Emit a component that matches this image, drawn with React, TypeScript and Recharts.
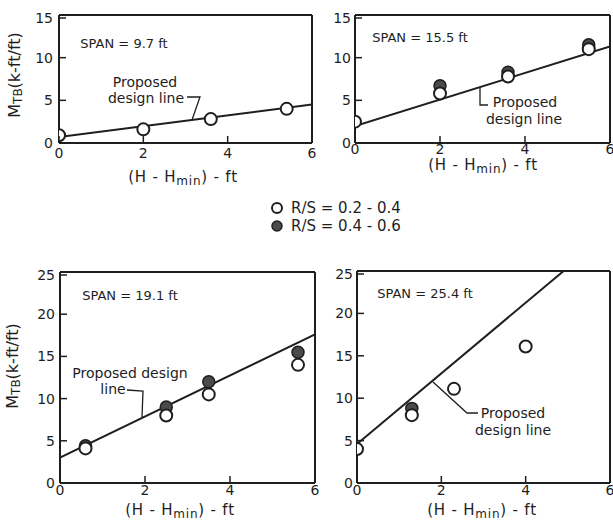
import { ScatterChart, Scatter, XAxis, YAxis } from 'recharts';

const FONT = '"DejaVu Sans", Verdana, sans-serif';
const INK = '#1e1e1e';

const xTicks = [0, 2, 4, 6];
const yTicksSmall = [0, 5, 10, 15];
const yTicksLarge = [0, 5, 10, 15, 20, 25];

// SPAN = 9.7 ft
const span97Open = [
  { x: 0, y: 0.9 },
  { x: 2, y: 1.6 },
  { x: 3.6, y: 2.8 },
  { x: 5.4, y: 4.0 },
];
const span97Filled: { x: number; y: number }[] = [];
const span97Line = [
  { x: 0, y: 0.7 },
  { x: 6, y: 4.5 },
];

// SPAN = 15.5 ft
const span155Open = [
  { x: 0, y: 2.5 },
  { x: 2, y: 5.8 },
  { x: 3.6, y: 7.8 },
  { x: 5.5, y: 11.0 },
];
const span155Filled = [
  { x: 2, y: 6.7 },
  { x: 3.6, y: 8.3 },
  { x: 5.5, y: 11.5 },
];
const span155Line = [
  { x: 0, y: 2.0 },
  { x: 6, y: 11.3 },
];

// SPAN = 19.1 ft
const span191Open = [
  { x: 0.6, y: 4.1 },
  { x: 2.5, y: 8.0 },
  { x: 3.5, y: 10.5 },
  { x: 5.6, y: 14.0 },
];
const span191Filled = [
  { x: 0.6, y: 4.4 },
  { x: 2.5, y: 9.0 },
  { x: 3.5, y: 12.0 },
  { x: 5.6, y: 15.5 },
];
const span191Line = [
  { x: 0, y: 3.0 },
  { x: 6, y: 17.6 },
];

// SPAN = 25.4 ft
const span254Open = [
  { x: 0, y: 4.0 },
  { x: 1.3, y: 8.0 },
  { x: 2.3, y: 11.1 },
  { x: 4.0, y: 16.1 },
];
const span254Filled = [{ x: 1.3, y: 8.8 }];
const span254Line = [
  { x: 0, y: 4.6 },
  { x: 4.9, y: 25 },
];

type Pt = { x: number; y: number };
type Box = { x: number; y: number; w: number; h: number };

const ML = 50;
const MT = 6;
const MR = 6;
const XH = 30;

function OpenDot(p: any) {
  return <circle cx={p.cx} cy={p.cy} r={6} fill="#fff" stroke={INK} strokeWidth={2} />;
}
function FilledDot(p: any) {
  return <circle cx={p.cx} cy={p.cy} r={6} fill="#4a4a4a" stroke={INK} strokeWidth={1.5} />;
}
function NoDot() {
  return <g />;
}

function Panel({
  box,
  yTicks,
  open,
  filled,
  line,
  xMargin,
  yMargin,
}: {
  box: Box;
  yTicks: number[];
  open: Pt[];
  filled: Pt[];
  line: Pt[];
  xMargin: number;
  yMargin: number;
}) {
  const yMax = yTicks[yTicks.length - 1];
  const BottomTick = (p: any) => {
    const ay = p.y - xMargin;
    return (
      <g>
        <line x1={p.x} x2={p.x} y1={ay} y2={ay - 7} stroke={INK} strokeWidth={1.5} />
        <text x={p.x} y={p.y} dy="0.71em" textAnchor="middle" fontSize={14} fill={INK} fontFamily={FONT}>
          {p.payload.value}
        </text>
      </g>
    );
  };
  const LeftTick = (p: any) => {
    const ax = p.x + yMargin;
    return (
      <g>
        <line x1={ax} x2={ax + 7} y1={p.y} y2={p.y} stroke={INK} strokeWidth={1.5} />
        <text x={p.x} y={p.y} dy="0.355em" textAnchor="end" fontSize={14} fill={INK} fontFamily={FONT}>
          {p.payload.value}
        </text>
      </g>
    );
  };
  const axisLine = { stroke: INK, strokeWidth: 2 };
  return (
    <div style={{ position: 'absolute', left: box.x - ML, top: box.y - MT }}>
      <ScatterChart
        width={box.w + ML + MR}
        height={box.h + MT + XH}
        margin={{ top: MT, right: MR, bottom: 0, left: 0 }}
      >
        <XAxis
          xAxisId="b"
          dataKey="x"
          type="number"
          domain={[0, 6]}
          ticks={xTicks}
          height={XH}
          tickSize={0}
          tickMargin={xMargin}
          tickLine={false}
          axisLine={axisLine}
          tick={BottomTick}
          allowDataOverflow
        />
        <XAxis
          xAxisId="t"
          orientation="top"
          mirror
          dataKey="x"
          type="number"
          domain={[0, 6]}
          ticks={xTicks}
          tick={false}
          tickSize={7}
          tickLine={{ stroke: INK, strokeWidth: 1.5 }}
          axisLine={axisLine}
          allowDataOverflow
        />
        <YAxis
          yAxisId="l"
          dataKey="y"
          type="number"
          domain={[0, yMax]}
          ticks={yTicks}
          width={ML}
          tickSize={0}
          tickMargin={yMargin}
          tickLine={false}
          axisLine={axisLine}
          tick={LeftTick}
          allowDataOverflow
        />
        <YAxis
          yAxisId="r"
          orientation="right"
          mirror
          dataKey="y"
          type="number"
          domain={[0, yMax]}
          ticks={yTicks}
          tick={false}
          tickSize={7}
          tickLine={{ stroke: INK, strokeWidth: 1.5 }}
          axisLine={axisLine}
          allowDataOverflow
        />
        <Scatter
          data={line}
          xAxisId="t"
          yAxisId="r"
          shape={NoDot}
          isAnimationActive={false}
        />
        <Scatter
          data={line}
          xAxisId="b"
          yAxisId="l"
          line={{ stroke: INK, strokeWidth: 2 }}
          lineType="joint"
          shape={NoDot}
          isAnimationActive={false}
        />
        <Scatter data={filled} xAxisId="b" yAxisId="l" shape={FilledDot} isAnimationActive={false} />
        <Scatter data={open} xAxisId="b" yAxisId="l" shape={OpenDot} isAnimationActive={false} />
      </ScatterChart>
    </div>
  );
}

function YTitle({ x, y }: { x: number; y: number }) {
  const size = 16;
  return (
    <text
      x={x}
      y={y}
      transform={`rotate(-90 ${x} ${y})`}
      textAnchor="middle"
      dominantBaseline="central"
      fontSize={size}
      fontFamily={FONT}
      fill={INK}
    >
      M
      <tspan fontSize={12} dy={4}>
        TB
      </tspan>
      <tspan dy={-4}>(k-ft/ft)</tspan>
    </text>
  );
}

function XTitle({ x, y }: { x: number; y: number }) {
  return (
    <text
      x={x}
      y={y}
      textAnchor="middle"
      dominantBaseline="central"
      fontSize={15}
      letterSpacing={0.8}
      fontFamily={FONT}
      fill={INK}
    >
      (H - H
      <tspan fontSize={12} dy={4}>
        min
      </tspan>
      <tspan dy={-4}>) - ft</tspan>
    </text>
  );
}

function Note({ x, y, size = 14, children }: { x: number; y: number; size?: number; children: string }) {
  return (
    <text x={x} y={y} textAnchor="middle" dominantBaseline="central" fontSize={size} fontFamily={FONT} fill={INK}>
      {children}
    </text>
  );
}

export default function App() {
  const lead = { stroke: INK, strokeWidth: 1.3, fill: 'none' };
  return (
    <div style={{ position: 'absolute', left: 0, top: 0, width: 613, height: 520, background: '#fff' }}>
      <Panel
        box={{ x: 59, y: 15, w: 253, h: 128 }}
        yTicks={yTicksSmall}
        open={span97Open}
        filled={span97Filled}
        line={span97Line}
        xMargin={5}
        yMargin={6}
      />
      <Panel
        box={{ x: 355, y: 15, w: 255, h: 128 }}
        yTicks={yTicksSmall}
        open={span155Open}
        filled={span155Filled}
        line={span155Line}
        xMargin={1}
        yMargin={4}
      />
      <Panel
        box={{ x: 60, y: 272, w: 255, h: 211 }}
        yTicks={yTicksLarge}
        open={span191Open}
        filled={span191Filled}
        line={span191Line}
        xMargin={2}
        yMargin={5}
      />
      <Panel
        box={{ x: 357, y: 271, w: 253, h: 212 }}
        yTicks={yTicksLarge}
        open={span254Open}
        filled={span254Filled}
        line={span254Line}
        xMargin={2}
        yMargin={4}
      />
      <svg
        width={613}
        height={520}
        style={{ position: 'absolute', left: 0, top: 0, pointerEvents: 'none' }}
      >
        <YTitle x={14} y={75} />
        <YTitle x={12} y={366} />
        <XTitle x={183} y={177} />
        <XTitle x={483} y={165} />
        <XTitle x={180} y={510} />
        <XTitle x={482} y={510} />

        <Note x={124} y={43} size={13}>SPAN = 9.7 ft</Note>
        <Note x={420} y={37} size={13}>SPAN = 15.5 ft</Note>
        <Note x={130} y={295} size={13}>SPAN = 19.1 ft</Note>
        <Note x={425} y={293} size={13}>SPAN = 25.4 ft</Note>

        <Note x={145} y={82}>Proposed</Note>
        <Note x={146} y={98}>design line</Note>
        <polyline points="187,97 200,97 192,120" {...lead} />

        <Note x={525} y={102}>Proposed</Note>
        <Note x={524} y={119}>design line</Note>
        <polyline points="480,88 480,105 488,105" {...lead} />

        <Note x={130} y={373}>Proposed design</Note>
        <Note x={113} y={389}>line</Note>
        <polyline points="127,390 143,391 142,417" {...lead} />

        <Note x={513} y={413}>Proposed</Note>
        <Note x={513} y={430}>design line</Note>
        <polyline points="433,382 467,413 478,413" {...lead} />

        <circle cx={277} cy={208} r={5} fill="#fff" stroke={INK} strokeWidth={2} />
        <text x={291} y={208} dominantBaseline="central" fontSize={15} fontFamily={FONT} fill={INK}>
          R/S = 0.2 - 0.4
        </text>
        <circle cx={277} cy={226} r={5} fill="#4a4a4a" stroke={INK} strokeWidth={1.5} />
        <text x={291} y={226} dominantBaseline="central" fontSize={15} fontFamily={FONT} fill={INK}>
          R/S = 0.4 - 0.6
        </text>
      </svg>
    </div>
  );
}
